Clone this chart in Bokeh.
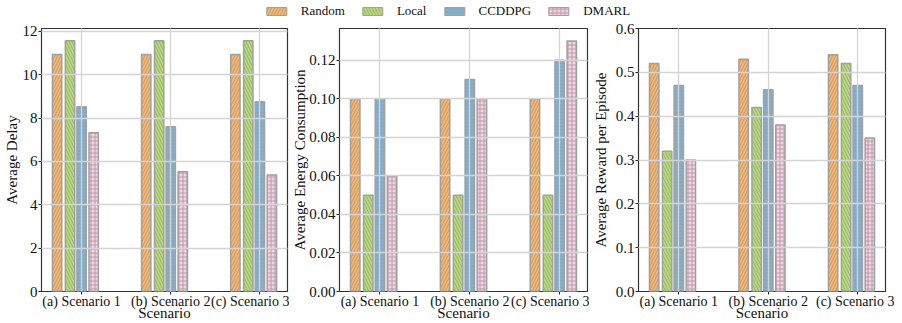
from bokeh.plotting import figure
from bokeh.layouts import column, row
from bokeh.models import Range1d, FixedTicker, Legend, LegendItem, ColumnDataSource
from bokeh.embed import file_html
from bokeh.resources import INLINE

# ---------------- data ----------------
scenarios = ["(a) Scenario 1", "(b) Scenario 2", "(c) Scenario 3"]
methods = ["Random", "Local", "CCDDPG", "DMARL"]

delay_random = [10.93, 10.93, 10.93]
delay_local = [11.57, 11.57, 11.57]
delay_ccddpg = [8.52, 7.6, 8.75]
delay_dmarl = [7.32, 5.52, 5.37]

energy_random = [0.10, 0.10, 0.10]
energy_local = [0.05, 0.05, 0.05]
energy_ccddpg = [0.10, 0.11, 0.12]
energy_dmarl = [0.06, 0.10, 0.13]

reward_random = [0.52, 0.53, 0.54]
reward_local = [0.32, 0.42, 0.52]
reward_ccddpg = [0.47, 0.46, 0.47]
reward_dmarl = [0.30, 0.38, 0.35]

delay_ticks = [0, 2, 4, 6, 8, 10, 12]
energy_ticks = [0.00, 0.02, 0.04, 0.06, 0.08, 0.10, 0.12]
reward_ticks = [0.0, 0.1, 0.2, 0.3, 0.4, 0.5, 0.6]

# ---------------- style ----------------
FONT = "Liberation Serif"
colors = ["#FDB462", "#B3DE69", "#80B1D3", "#FCCDE5"]
hatches = ["/", "\\", "-", "+"]
hatch_scales = [6, 6, 3.5, 4]
offsets = [-0.275, -0.13, 0.0, 0.135]
BAR_W = 0.105
EDGE = "#A0A0A0"
HATCH = "#9A9A9A"
X0, X1 = -0.45, 2.31
TXT = "#111111"
ROW_H = 301


def make_panel(series, ylabel, ymax, yticks, fmt, width, left, right, ystand):
    p = figure(width=width, height=ROW_H, output_backend="svg", toolbar_location=None,
               x_range=Range1d(X0, X1), y_range=Range1d(0, ymax),
               min_border_left=left, min_border_right=right,
               min_border_top=6, min_border_bottom=20)
    xs = list(range(len(scenarios)))
    for k, vals in enumerate(series):
        src = ColumnDataSource(dict(x=[x + offsets[k] for x in xs], top=vals))
        p.vbar(x="x", top="top", width=BAR_W, bottom=0, source=src,
               fill_color=colors[k], line_color=EDGE, line_width=1.5,
               hatch_pattern=hatches[k], hatch_color=HATCH, hatch_weight=0.8,
               hatch_scale=hatch_scales[k])
    p.xaxis.ticker = FixedTicker(ticks=xs)
    p.xaxis.major_label_overrides = {i: s for i, s in enumerate(scenarios)}
    p.yaxis.ticker = FixedTicker(ticks=yticks)
    p.yaxis.major_label_overrides = {t: fmt.format(t) for t in yticks}
    for ax in (p.xaxis, p.yaxis):
        ax.axis_line_color = None
        ax.major_tick_line_color = "#222222"
        ax.major_tick_out = 3
        ax.major_tick_in = 0
        ax.minor_tick_line_color = None
        ax.major_label_text_font = FONT
        ax.major_label_text_font_size = "15px"
        ax.major_label_text_color = TXT
        ax.axis_label_text_font = FONT
        ax.axis_label_text_font_size = "15px"
        ax.axis_label_text_font_style = "normal"
        ax.axis_label_text_color = TXT
    p.xaxis.major_label_text_font_size = "14px"
    p.xaxis.major_label_standoff = -1
    p.xaxis.axis_label = "Scenario"
    p.xaxis.axis_label_standoff = -7
    p.yaxis.major_label_standoff = 1
    p.yaxis.axis_label = ylabel
    p.yaxis.axis_label_standoff = ystand
    p.grid.grid_line_color = "#D4D4D4"
    p.grid.grid_line_width = 1.3
    p.grid.level = "overlay"
    p.outline_line_color = "#333333"
    p.outline_line_width = 1.2
    p.background_fill_color = "white"
    return p


p1 = make_panel([delay_random, delay_local, delay_ccddpg, delay_dmarl],
                "Average Delay", 12.13, delay_ticks, "{:.0f}", 289, 36, 2, 0)
p2 = make_panel([energy_random, energy_local, energy_ccddpg, energy_dmarl],
                "Average Energy Consumption", 0.1365, energy_ticks, "{:.2f}", 300, 48, 2, -2)
p3 = make_panel([reward_random, reward_local, reward_ccddpg, reward_dmarl],
                "Average Reward per Episode", 0.6, reward_ticks, "{:.1f}", 305, 48, 9, 4)

# ---------------- legend strip ----------------
lf = figure(width=894, height=22, output_backend="svg", toolbar_location=None,
            x_range=Range1d(0, 1), y_range=Range1d(0, 1),
            x_axis_type=None, y_axis_type=None, min_border=0)
lf.outline_line_color = None
lf.grid.visible = False
items = []
for k, m in enumerate(methods):
    r = lf.vbar(x=[0.5], top=[0.6], bottom=[0.4], width=0.001, fill_color=colors[k],
                line_color=EDGE, line_width=1.0, hatch_pattern=hatches[k],
                hatch_color=HATCH, hatch_weight=0.8, hatch_scale=hatch_scales[k])
    items.append(LegendItem(label=m, renderers=[r]))
# white cover so that only the legend swatches are seen
lf.quad(left=[-1], right=[2], bottom=[-1], top=[2], fill_color="white", line_color=None)
leg = Legend(items=items, orientation="horizontal", location="center",
             glyph_width=25, glyph_height=10, label_standoff=12, spacing=15,
             label_height=10, label_text_baseline="middle",
             label_text_font=FONT, label_text_font_size="13px",
             label_text_color=TXT, border_line_color=None,
             background_fill_alpha=0, padding=0, margin=0)
lf.add_layout(leg, "center")

layout = column(lf, row(p1, p2, p3))
open("out.html", "w").write(file_html(layout, INLINE))
